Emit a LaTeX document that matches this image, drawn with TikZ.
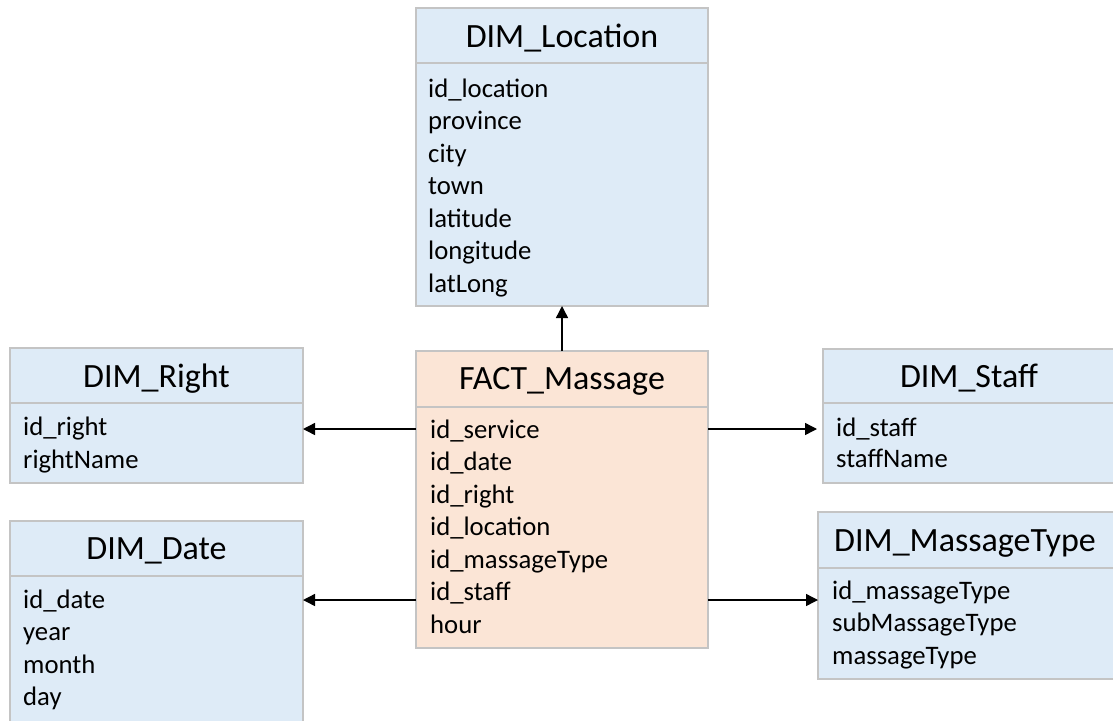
\documentclass[tikz,border=0pt]{standalone}
\usepackage{fontspec}
\setmainfont{Carlito}
\usetikzlibrary{arrows.meta, positioning}

\definecolor{dimblue}{HTML}{DEEBF7}
\definecolor{factorange}{HTML}{FBE5D6}
\definecolor{boxline}{HTML}{C4C4C4}

\tikzset{
  dimbox/.style={draw=boxline, line width=1.3pt, fill=dimblue, inner sep=0pt, outer sep=0pt},
  factbox/.style={dimbox, fill=factorange},
  divider/.style={draw=boxline, line width=1.3pt},
  tabletitle/.style={font=\fontsize{34}{40}\selectfont, anchor=base, inner sep=0pt},
  field/.style={font=\fontsize{26.7}{32}\selectfont, anchor=base west, inner sep=0pt},
  link/.style={-{Triangle[length=12pt,width=12pt]}, line width=1.4pt},
}

\begin{document}
\begin{tikzpicture}[x=1pt, y=-1pt]
    \useasboundingbox (0,0) rectangle (1113,720);
    \clip (0,0) rectangle (1113,720);

    % DIM_Location
    \node[dimbox, minimum width=292pt, minimum height=298pt] (loc) at (562,157) {};
    \draw[divider] (loc.west |- 0,63) -- (loc.east |- 0,63);
    \node[tabletitle] (loctitle) at (562,47) {DIM\_Location};
    \node[field] (loc1) at (428,97) {id\_location};
    \node[field] (loc2) at (428,129.5) {province};
    \node[field] (loc3) at (428,162) {city};
    \node[field] (loc4) at (428,194.5) {town};
    \node[field] (loc5) at (428,227) {latitude};
    \node[field] (loc6) at (428,259.5) {longitude};
    \node[field] (loc7) at (428,292) {latLong};

    % FACT_Massage
    \node[factbox, minimum width=292pt, minimum height=297pt] (fact) at (562,499.5) {};
    \draw[divider] (fact.west |- 0,407) -- (fact.east |- 0,407);
    \node[tabletitle] (facttitle) at (562,389) {FACT\_Massage};
    \node[field] (fact1) at (430,438) {id\_service};
    \node[field] (fact2) at (430,470.5) {id\_date};
    \node[field] (fact3) at (430,503) {id\_right};
    \node[field] (fact4) at (430,535.5) {id\_location};
    \node[field] (fact5) at (430,568) {id\_massageType};
    \node[field] (fact6) at (430,600.5) {id\_staff};
    \node[field] (fact7) at (430,633) {hour};

    % DIM_Right
    \node[dimbox, minimum width=293pt, minimum height=135pt] (right) at (156.5,415.5) {};
    \draw[divider] (right.west |- 0,403) -- (right.east |- 0,403);
    \node[tabletitle] (righttitle) at (156.5,387) {DIM\_Right};
    \node[field] (right1) at (23,435) {id\_right};
    \node[field] (right2) at (23,468) {rightName};

    % DIM_Date (runs past the bottom edge)
    \node[dimbox, minimum width=293pt, minimum height=219pt] (date) at (156.5,630.5) {};
    \draw[divider] (date.west |- 0,576) -- (date.east |- 0,576);
    \node[tabletitle] (datetitle) at (156.5,559) {DIM\_Date};
    \node[field] (date1) at (23,608) {id\_date};
    \node[field] (date2) at (23,640.5) {year};
    \node[field] (date3) at (23,673) {month};
    \node[field] (date4) at (23,705.5) {day};

    % DIM_Staff (runs past the right edge)
    \node[dimbox, minimum width=300pt, minimum height=134pt] (staff) at (973,416) {};
    \draw[divider] (staff.west |- 0,403) -- (staff.east |- 0,403);
    \node[tabletitle] (stafftitle) at (969,387) {DIM\_Staff};
    \node[field] (staff1) at (836,436) {id\_staff};
    \node[field] (staff2) at (836,467.5) {staffName};

    % DIM_MassageType (runs past the right edge)
    \node[dimbox, minimum width=305pt, minimum height=167pt] (mtype) at (970.5,595.5) {};
    \draw[divider] (mtype.west |- 0,568) -- (mtype.east |- 0,568);
    \node[tabletitle] (mtypetitle) at (965,551) {DIM\_MassageType};
    \node[field] (mtype1) at (832,599) {id\_massageType};
    \node[field] (mtype2) at (832,631.5) {subMassageType};
    \node[field] (mtype3) at (832,664) {massageType};

    % Links from the fact table
    \coordinate (staffin) at (817,429);
    \draw[link] (fact.north) -- (loc.south);
    \draw[link] (fact.west |- staffin) -- (right.east |- staffin);
    \draw[link] (fact.east |- staffin) -- (staffin);
    \draw[link] (fact.west |- 0,600) -- (date.east |- 0,600);
    \draw[link] (fact.east |- 0,600) -- (mtype.west |- 0,600);
\end{tikzpicture}
\end{document}
